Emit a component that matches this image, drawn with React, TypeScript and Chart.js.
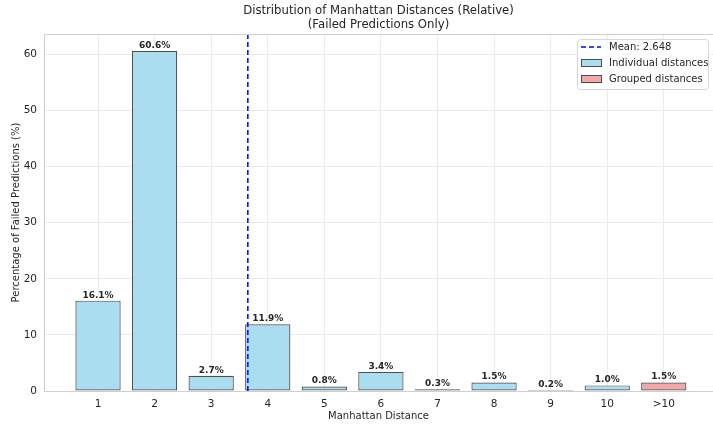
import React, { useEffect, useRef } from "react";
import { Chart, registerables } from "chart.js";

Chart.register(...registerables);

const CATEGORIES = ["1", "2", "3", "4", "5", "6", "7", "8", "9", "10", ">10"];
const PERCENTAGES = [16.1, 60.6, 2.7, 11.9, 0.8, 3.4, 0.3, 1.5, 0.2, 1.0, 1.5];
const GROUPED = [false, false, false, false, false, false, false, false, false, false, true];
const MEAN_DISTANCE = 2.648;
const Y_TICKS = [0, 10, 20, 30, 40, 50, 60];

const TITLE_LINES = ["Distribution of Manhattan Distances (Relative)", "(Failed Predictions Only)"];
const X_TITLE = "Manhattan Distance";
const Y_TITLE = "Percentage of Failed Predictions (%)";
const LEGEND_LABELS = ["Mean: " + MEAN_DISTANCE.toFixed(3), "Individual distances", "Grouped distances"];

const FONT = "'DejaVu Sans', sans-serif";
const IND_FILL = "rgb(171,221,241)";
const GRP_FILL = "rgb(245,166,166)";
const EDGE = "rgb(77,77,77)";
const TEXT = "#262626";
const SPINE = "#cfcfcf";
const GRID = "#ebebeb";

export default function App() {
  const ref = useRef<HTMLCanvasElement>(null);

  useEffect(() => {
    if (!ref.current) return;
    const yMax = Math.max(...PERCENTAGES) * 1.05;

    const decorPlugin = {
      id: "decor",
      afterDatasetsDraw(chart: any) {
        const ctx = chart.ctx;
        const area = chart.chartArea;
        ctx.save();
        // spines
        ctx.strokeStyle = SPINE;
        ctx.lineWidth = 1;
        ctx.beginPath();
        ctx.moveTo(area.left + 0.5, area.bottom);
        ctx.lineTo(area.left + 0.5, area.top + 0.5);
        ctx.lineTo(area.right, area.top + 0.5);
        ctx.moveTo(area.left, area.bottom + 0.5);
        ctx.lineTo(area.right, area.bottom + 0.5);
        ctx.stroke();

        // value labels
        const meta = chart.getDatasetMeta(0);
        ctx.fillStyle = TEXT;
        ctx.font = "bold 9px " + FONT;
        ctx.textAlign = "center";
        ctx.textBaseline = "bottom";
        meta.data.forEach((el: any, i: number) => {
          ctx.fillText(PERCENTAGES[i].toFixed(1) + "%", el.x, el.y - 1);
        });

        // titles
        const cx = (area.left + area.right) / 2;
        ctx.font = "11.7px " + FONT;
        ctx.textBaseline = "middle";
        ctx.fillText(TITLE_LINES[0], cx, 11);
        ctx.fillText(TITLE_LINES[1], cx, 25);

        ctx.font = "10px " + FONT;
        ctx.fillText(X_TITLE, cx, 416);
        ctx.save();
        ctx.translate(16, (area.top + area.bottom) / 2);
        ctx.rotate(-Math.PI / 2);
        ctx.fillText(Y_TITLE, 0, 0);
        ctx.restore();

        // legend
        const bx = 577, by = 39, bw = 131, bh = 50;
        ctx.fillStyle = "rgba(255,255,255,0.85)";
        ctx.strokeStyle = "#d6d6d6";
        ctx.lineWidth = 1;
        ctx.beginPath();
        (ctx as any).roundRect(bx + 0.5, by + 0.5, bw, bh, 3);
        ctx.fill();
        ctx.stroke();
        const rows = [47, 63, 79];
        // mean handle
        ctx.strokeStyle = "blue";
        ctx.lineWidth = 1.5;
        ctx.setLineDash([5, 3]);
        ctx.beginPath();
        ctx.moveTo(581, rows[0]);
        ctx.lineTo(601, rows[0]);
        ctx.stroke();
        ctx.setLineDash([]);
        const fills = [IND_FILL, GRP_FILL];
        for (let k = 0; k < 2; k++) {
          ctx.fillStyle = fills[k];
          ctx.fillRect(581, rows[k + 1] - 3.5, 20, 7);
          ctx.strokeStyle = EDGE;
          ctx.lineWidth = 1;
          ctx.strokeRect(581.5, rows[k + 1] - 3.5, 20, 7);
        }
        ctx.fillStyle = TEXT;
        ctx.font = "10px " + FONT;
        ctx.textAlign = "left";
        ctx.textBaseline = "middle";
        LEGEND_LABELS.forEach((t, i) => ctx.fillText(t, 609, rows[i]));
        ctx.restore();
      },
    };

    const chart = new Chart(ref.current, {
      type: "bar",
      data: {
        datasets: [
          {
            type: "bar",
            data: PERCENTAGES.map((v, i) => ({ x: i, y: v })),
            backgroundColor: GROUPED.map((g) => (g ? GRP_FILL : IND_FILL)),
            borderColor: EDGE,
            borderWidth: 1.2,
            borderSkipped: false,
            barPercentage: 0.8,
            categoryPercentage: 1.0,
            order: 2,
          } as any,
          {
            type: "line",
            data: [
              { x: MEAN_DISTANCE, y: 0 },
              { x: MEAN_DISTANCE, y: yMax },
            ],
            borderColor: "blue",
            borderWidth: 1.5,
            borderDash: [5, 3],
            pointRadius: 0,
            fill: false,
            order: 1,
          } as any,
        ],
      },
      options: {
        animation: false,
        responsive: true,
        maintainAspectRatio: false,
        layout: { padding: { top: 34, left: 0, right: 0, bottom: 0 } },
        plugins: {
          legend: { display: false },
          title: { display: false },
          tooltip: { enabled: false },
        },
        scales: {
          x: {
            type: "linear",
            offset: false,
            min: -0.955,
            max: 10.87,
            grid: { color: GRID, drawTicks: false, lineWidth: 1, offset: false },
            border: { display: false },
            afterBuildTicks: (scale: any) => {
              scale.ticks = CATEGORIES.map((_, i) => ({ value: i }));
            },
            afterFit: (scale: any) => {
              scale.height = 33;
            },
            ticks: {
              padding: 7,
              color: TEXT,
              font: { family: FONT, size: 10.5 },
              autoSkip: false,
              maxRotation: 0,
              callback: (v: any) => CATEGORIES[v] ?? "",
            },
          },
          y: {
            type: "linear",
            min: 0,
            max: yMax,
            grid: { color: GRID, drawTicks: false, lineWidth: 1 },
            border: { display: false },
            afterBuildTicks: (scale: any) => {
              scale.ticks = Y_TICKS.map((v) => ({ value: v }));
            },
            afterFit: (scale: any) => {
              scale.width = 44;
            },
            ticks: {
              padding: 7,
              color: TEXT,
              font: { family: FONT, size: 10.5 },
              callback: (v: any) => String(v),
            },
          },
        },
      } as any,
      plugins: [decorPlugin],
    });
    return () => chart.destroy();
  }, []);

  return (
    <div style={{ position: "fixed", left: 0, top: 0, width: 713, height: 424, background: "#fff" }}>
      <canvas ref={ref} />
    </div>
  );
}
